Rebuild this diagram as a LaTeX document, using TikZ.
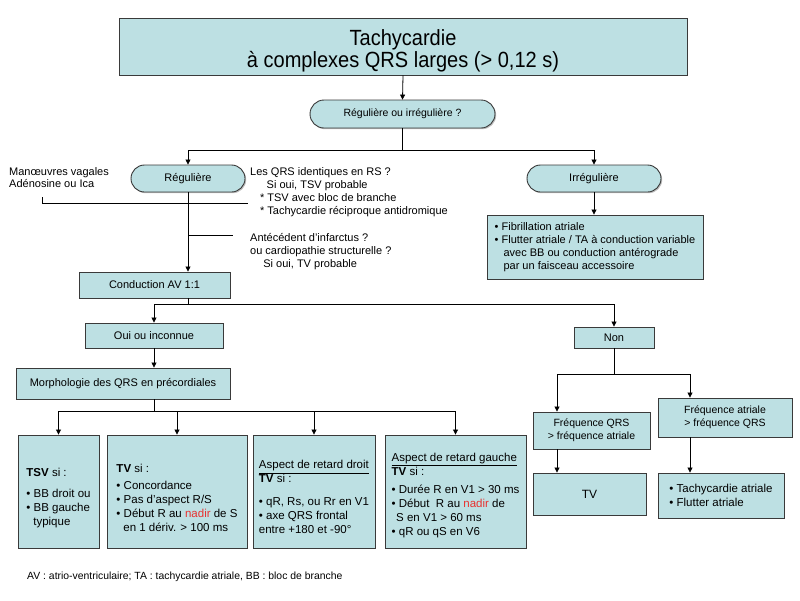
\documentclass[tikz,border=0pt]{standalone}
\usepackage{fontspec}
\setmainfont{Liberation Sans}
\usetikzlibrary{arrows.meta,shapes.misc,shadows}
\definecolor{boxfill}{HTML}{BDE0E3}
\definecolor{boxline}{HTML}{3A3A3A}
\definecolor{nadirred}{HTML}{E8312F}
\newcommand{\cnd}[1]{\scalebox{0.91}[1]{#1}}
\begin{document}
\begin{tikzpicture}[x=1pt,y=-1pt,
  box/.style={draw=boxline, line width=0.9pt, fill=boxfill, inner sep=2pt,
    font=\fontsize{11}{13}\selectfont, align=center,
    drop shadow={shadow xshift=1.2pt,shadow yshift=-1.2pt,fill=black,opacity=0.25}},
  pill/.style={box, rounded rectangle},
  bigbox/.style={box, align=left, font=\fontsize{11.5}{14}\selectfont},
  arr/.style={-{Triangle[length=5pt,width=5pt]}, line width=0.8pt},
  ln/.style={line width=0.8pt},
  note/.style={anchor=north west, align=left, inner sep=0pt, font=\fontsize{11}{13}\selectfont}]
\path[use as bounding box, fill=white] (0,0) rectangle (800,600);

% top
\node[box, minimum width=568pt, minimum height=57pt, font=\fontsize{22}{22}\selectfont] (title) at (403,46.5)
  {\rule{0pt}{24pt}\cnd{Tachycardie}\\\cnd{à complexes QRS larges (> 0,12 s)}};
\node[pill, minimum width=189pt, minimum height=28pt, font=\fontsize{10.5}{12}\selectfont] (q1) at (402.5,114) {Régulière ou irrégulière ?};
\node[pill, minimum width=118pt, minimum height=27pt] (reg) at (188,178.5) {Régulière};
\node[pill, minimum width=138pt, minimum height=27pt] (irr) at (594,178.5) {Irrégulière};
\node[box, align=left, minimum width=216pt, minimum height=64pt] (fib) at (595,247)
  {• Fibrillation atriale\\• Flutter atriale / TA à conduction variable\\\hspace*{0.8em}avec BB ou conduction antérograde\\\hspace*{0.8em}par un faisceau accessoire};

% notes
\node[note, font=\fontsize{11}{12}\selectfont] (nleft) at (9,167) {Manœuvres vagales\\Adénosine ou Ica};
\node[note] (nright) at (250,167) {Les QRS identiques en RS ?\\\hspace*{1.5em}Si oui, TSV probable\\\hspace*{0.9em}* TSV avec bloc de branche\\\hspace*{0.9em}* Tachycardie réciproque antidromique};
\node[note] (ninf) at (250,233) {Antécédent d’infarctus ?\\ou cardiopathie structurelle ?\\\hspace*{1.2em}Si oui, TV probable};

% middle
\node[box, minimum width=151pt, minimum height=26pt] (cond) at (154.5,285) {Conduction AV 1:1};
\node[box, minimum width=138pt, minimum height=25pt] (oui) at (154,335.5) {Oui ou inconnue};
\node[box, minimum width=214pt, minimum height=31pt] (morph) at (123,383.5) {Morphologie des QRS en précordiales};
\node[box, minimum width=80pt, minimum height=21pt] (non) at (614,337.5) {Non};
\node[box, minimum width=117pt, minimum height=37pt, font=\fontsize{10.5}{13}\selectfont] (fqrs) at (591.5,430.5) {Fréquence QRS\\> fréquence atriale};
\node[box, minimum width=134pt, minimum height=39pt, font=\fontsize{10.5}{13}\selectfont] (fatr) at (725,417.5) {Fréquence atriale\\> fréquence QRS};
\node[box, minimum width=113pt, minimum height=42pt, font=\fontsize{12}{14}\selectfont] (tv) at (589.5,494) {TV};
\node[bigbox, minimum width=126pt, minimum height=45pt] (tach) at (721,495.5) {• Tachycardie atriale\\• Flutter atriale};

% bottom boxes
\node[bigbox, minimum width=81pt, minimum height=113pt] (b1) at (58.5,491.5)
  {\rule{0pt}{21pt}\textbf{TSV} si :\\[7pt]• BB droit ou\\• BB gauche\\\hspace*{0.6em}typique};
\node[bigbox, minimum width=140pt, minimum height=113pt] (b2) at (177,491.5)
  {\rule{0pt}{21pt}\textbf{TV} si :\\[3pt]• Concordance\\• Pas d’aspect R/S\\• Début R au \textcolor{nadirred}{nadir} de S\\\hspace*{0.6em}en 1 dériv. > 100 ms};
\node[bigbox, minimum width=122pt, minimum height=113pt] (b3) at (314,491.5)
  {\rule{0pt}{20pt}\underline{Aspect de retard droit}\\\textbf{TV} si :\\[9pt]• qR, Rs, ou Rr en V1\\• axe QRS frontal\\entre +180 et -90°};
\node[bigbox, minimum width=141pt, minimum height=113pt] (b4) at (455.5,491.5)
  {\rule{0pt}{16pt}\underline{Aspect de retard gauche}\\\textbf{TV} si :\\[4pt]• Durée R en V1 > 30 ms\\• Début\ \ R au \textcolor{nadirred}{nadir} de\\\hspace*{0.4em}S en V1 > 60 ms\\• qR ou qS en V6};

% footer
\node[note, anchor=west, font=\fontsize{10.4}{13}\selectfont] (foot) at (27,577) {AV : atrio-ventriculaire; TA : tachycardie atriale, BB : bloc de branche};

% connectors
\draw[arr] (title.south) -- (q1.north);
\draw[ln] (q1.south) -- ++(0,22) coordinate (j1);
\draw[arr] (j1) -| (reg.north);
\draw[arr] (j1) -| (irr.north);
\draw[arr] (irr.south) -- (irr.south |- fib.north);
\draw[arr] (reg.south) -- (reg.south |- cond.north);
\coordinate (s1a) at (42,197);
\coordinate (s1b) at (248,203);
\draw[ln] (s1a) |- (s1b);
\coordinate (s2b) at (233,235);
\draw[ln] (reg.south |- s2b) -- (s2b);

\draw[ln] (reg.south |- cond.south) -- ++(0,6) coordinate (j2);
\draw[arr] (j2) -| (oui.north);
\draw[arr] (j2) -| (non.north);
\draw[arr] (oui.south) -- (oui.south |- morph.north);
\draw[ln] (oui.south |- morph.south) -- ++(0,12) coordinate (j3);
\draw[arr] (j3) -| (b1.north);
\draw[arr] (j3) -| (b2.north);
\draw[arr] (j3) -| (b3.north);
\draw[arr] (j3) -| (b4.north);

\draw[ln] (non.south) -- ++(0,26) coordinate (j4);
\draw[arr] (j4) -| ([xshift=-34.5pt]fqrs.north);
\draw[arr] (j4) -| ([xshift=-35pt]fatr.north);
\draw[arr] ([xshift=-34.5pt]fqrs.south) -- ([xshift=-34.5pt]fqrs.south |- tv.north);
\draw[arr] ([xshift=-35pt]fatr.south) -- ([xshift=-35pt]fatr.south |- tach.north);
\end{tikzpicture}
\end{document}
